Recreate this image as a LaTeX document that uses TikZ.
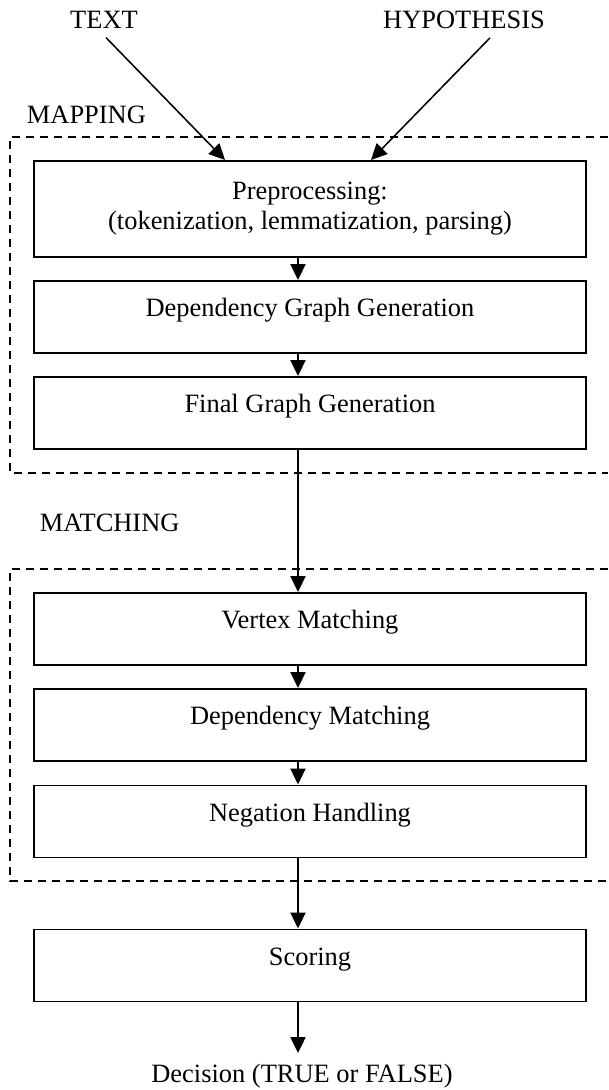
\documentclass[tikz,border=0pt]{standalone}
\usepackage{fontspec}
\setmainfont{Liberation Serif}
\usetikzlibrary{arrows.meta}

\begin{document}
\begin{tikzpicture}[
		every node/.style={font=\fontsize{18.8}{21.3}\selectfont},
		box/.style={draw, line width=1.4pt, minimum width=13.8cm, minimum height=1.8cm},
		stage/.style={box, text height=0.5cm, text depth=0.5cm},
		flow/.style={line width=1.1pt, -{Triangle[length=0.4cm, width=0.38cm]}},
		frame/.style={line width=1.2pt, dash pattern=on 0.2cm off 0.15cm}
	]
	\useasboundingbox (0,0) rectangle (15.2,27.25);

	\node (Text) at (2.6, 26.75) {TEXT};
	\node (Hyp) at (11.6, 26.75) {HYPOTHESIS};

	% mapping
	\node (MapLbl) [anchor=west] at (0.55, 24.375) {MAPPING};
	\draw[frame] (15.2, 23.825) -- (0.25, 23.825) -- (0.25, 15.425) -- (15.2, 15.425);

	\node (Prep) [box, minimum height=2.4cm, align=center] at (7.75, 22.025) {Preprocessing:\\(tokenization, lemmatization, parsing)};
	\draw[flow] ([xshift=0.05cm, yshift=-0.1cm]Text.south) -- ([xshift=-2.125cm]Prep.north);
	\draw[flow] ([xshift=0.65cm, yshift=-0.1cm]Hyp.south) -- ([xshift=1.525cm]Prep.north);

	\node (DepGraph) [stage] at (7.75, 19.325) {Dependency Graph Generation};
	\draw[flow] ([xshift=-0.3cm]Prep.south) -- ([xshift=-0.3cm]DepGraph.north);

	\node (FinalGraph) [stage] at (7.75, 16.925) {Final Graph Generation};
	\draw[flow] ([xshift=-0.3cm]DepGraph.south) -- ([xshift=-0.3cm]FinalGraph.north);

	% matching
	\node (MatchLbl) [anchor=west] at (0.875, 14.175) {MATCHING};
	\draw[frame] (15.2, 13.025) -- (0.25, 13.025) -- (0.25, 5.225) -- (15.2, 5.225);

	\node (Vertex) [stage] at (7.75, 11.525) {Vertex Matching};
	\draw[flow] ([xshift=-0.3cm]FinalGraph.south) -- ([xshift=-0.3cm]Vertex.north);

	\node (DepMatch) [stage] at (7.75, 9.125) {Dependency Matching};
	\draw[flow] ([xshift=-0.3cm]Vertex.south) -- ([xshift=-0.3cm]DepMatch.north);

	\node (Negation) [stage] at (7.75, 6.7125) {Negation Handling};
	\draw[flow] ([xshift=-0.3cm]DepMatch.south) -- ([xshift=-0.3cm]Negation.north);

	\node (Scoring) [stage] at (7.75, 3.1125) {Scoring};
	\draw[flow] ([xshift=-0.3cm]Negation.south) -- ([xshift=-0.3cm]Scoring.north);

	\node (Decision) at (7.55, 0.35) {Decision (TRUE or FALSE)};
	\draw[flow] ([xshift=-0.3cm]Scoring.south) -- ([xshift=-0.1cm, yshift=0.15cm]Decision.north);
\end{tikzpicture}
\end{document}
